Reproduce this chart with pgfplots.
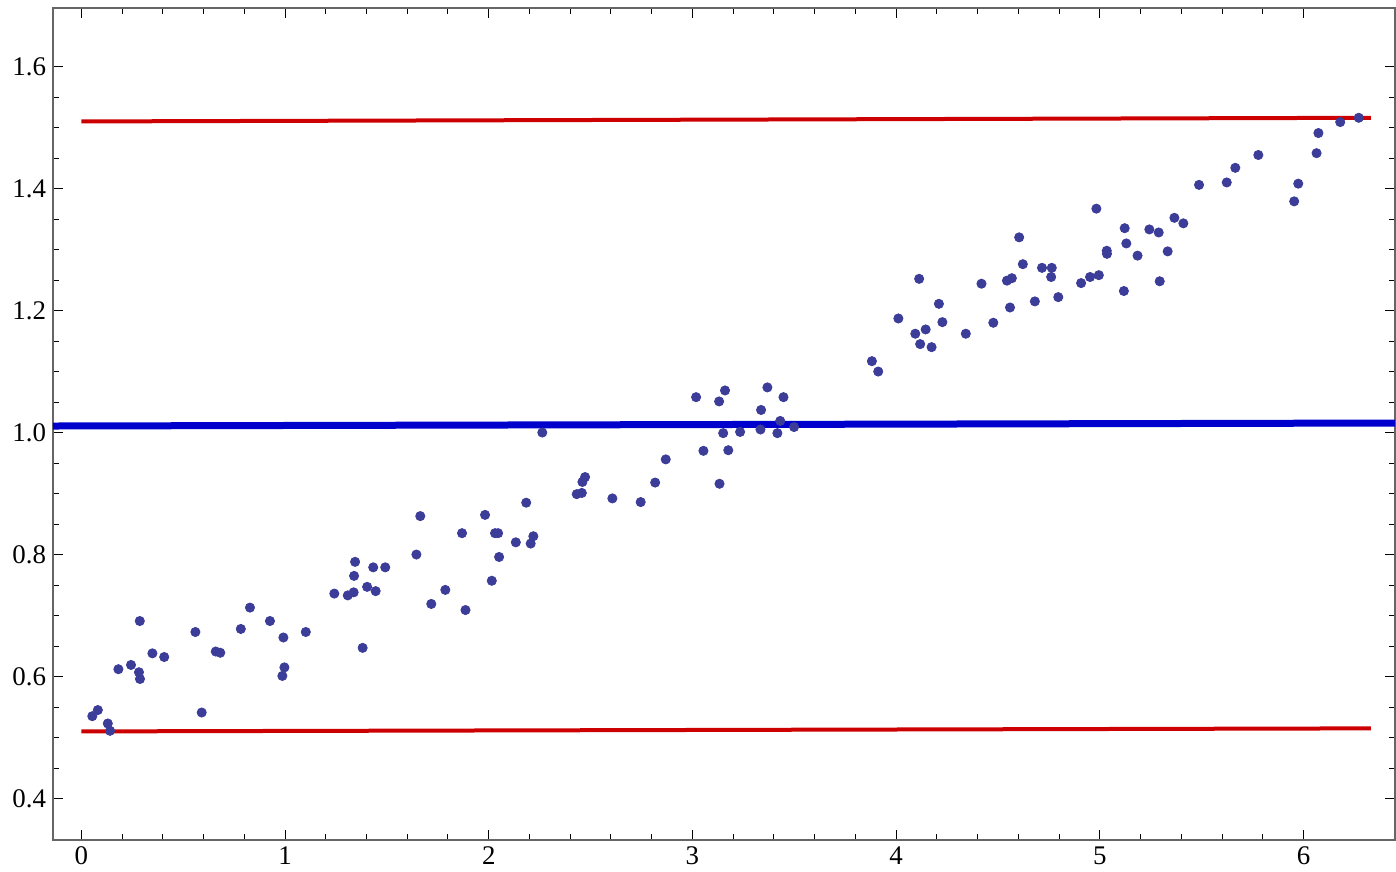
\documentclass[border=0pt]{standalone}
\usepackage{fontspec}
\setmainfont{Liberation Serif}
\usepackage{pgfplots}
\usepackage{pgfplotstable}
\pgfplotsset{compat=1.18}
\definecolor{ptcol}{RGB}{60,60,153}
\definecolor{redline}{RGB}{204,0,0}
\definecolor{blueline}{RGB}{0,0,204}
\pgfplotstableread{
x y
0.054 0.535
0.081 0.545
0.130 0.523
0.141 0.511
0.182 0.612
0.244 0.619
0.283 0.607
0.288 0.596
0.287 0.691
0.349 0.638
0.407 0.632
0.560 0.673
0.591 0.541
0.660 0.641
0.682 0.639
0.783 0.678
0.828 0.713
0.926 0.691
0.992 0.664
0.997 0.615
0.987 0.601
1.102 0.673
1.242 0.736
1.308 0.733
1.337 0.738
1.339 0.765
1.344 0.788
1.381 0.647
1.403 0.747
1.433 0.779
1.445 0.740
1.492 0.779
1.645 0.800
1.664 0.863
1.718 0.719
1.787 0.742
1.869 0.835
1.886 0.709
1.982 0.865
2.015 0.757
2.031 0.835
2.046 0.835
2.051 0.796
2.133 0.820
2.184 0.885
2.206 0.818
2.219 0.830
2.263 1.000
2.432 0.899
2.457 0.901
2.460 0.919
2.473 0.927
2.607 0.892
2.746 0.886
2.817 0.918
2.869 0.956
3.018 1.058
3.054 0.970
3.131 1.051
3.160 1.069
3.133 0.916
3.151 0.999
3.176 0.971
3.234 1.001
3.334 1.005
3.337 1.037
3.368 1.074
3.417 0.999
3.431 1.019
3.447 1.058
3.499 1.009
3.881 1.117
3.912 1.100
4.011 1.187
4.113 1.252
4.094 1.162
4.145 1.169
4.118 1.145
4.174 1.140
4.210 1.211
4.227 1.181
4.342 1.162
4.419 1.244
4.477 1.180
4.544 1.249
4.568 1.253
4.559 1.205
4.604 1.320
4.622 1.276
4.681 1.215
4.716 1.270
4.764 1.270
4.761 1.255
4.796 1.222
4.908 1.245
4.952 1.255
4.995 1.258
4.983 1.367
5.034 1.298
5.035 1.293
5.118 1.232
5.122 1.335
5.130 1.310
5.185 1.290
5.243 1.333
5.289 1.328
5.294 1.248
5.333 1.297
5.366 1.352
5.410 1.343
5.487 1.406
5.623 1.410
5.665 1.434
5.778 1.455
5.954 1.379
5.974 1.408
6.064 1.458
6.073 1.491
6.180 1.509
6.271 1.516
}\datatable
\begin{document}
\begin{tikzpicture}
\begin{axis}[
  scale only axis,
  width=671bp, height=416bp,
  xmin=-0.139, xmax=6.449,
  ymin=0.332, ymax=1.696,
  axis line style={black!60, line width=0.6bp},
  xtick={0,1,2,3,4,5,6},
  minor x tick num=4,
  ytick={0.4,0.6,0.8,1.0,1.2,1.4,1.6},
  minor y tick num=3,
  tick align=inside,
  xtick pos=both, ytick pos=both,
  major tick length=5bp, minor tick length=3.2bp,
  every tick/.style={black, line width=0.5bp},
  /pgf/number format/assume math mode=true,
  ticklabel style={font=\fontsize{13.5}{15}\selectfont},
  yticklabel style={/pgf/number format/fixed, /pgf/number format/precision=1, /pgf/number format/fixed zerofill},
  xticklabel style={/pgf/number format/fixed, /pgf/number format/precision=0},
]
\addplot[only marks, color=ptcol, mark=*, mark size=2.3bp, mark options={draw=none, fill=ptcol}] table[x=x, y=y] {\datatable};
\addplot[redline, line width=2bp] coordinates {(0,0.510) (6.33,0.515)};
\addplot[redline, line width=2bp] coordinates {(0,1.510) (6.33,1.516)};
\addplot[blueline, line width=3.5bp] coordinates {(-0.139,1.0107) (6.449,1.0156)};
\end{axis}
\path (current axis.north east) ++(0.5bp,4bp);
\path (current axis.south west) ++(-26.5bp,0);
\end{tikzpicture}
\end{document}
